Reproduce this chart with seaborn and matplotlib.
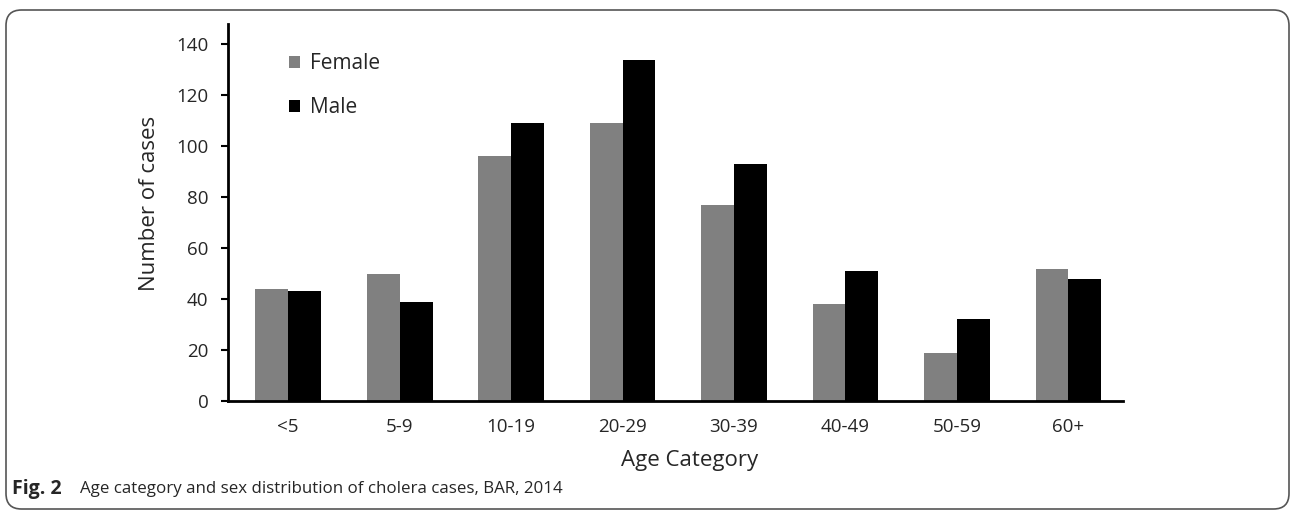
import matplotlib
matplotlib.use("Agg")
import matplotlib.pyplot as plt
import seaborn as sns
import pandas as pd
from matplotlib.patches import FancyBboxPatch

categories = ["<5", "5-9", "10-19", "20-29", "30-39", "40-49", "50-59", "60+"]
female = [44, 50, 96, 109, 77, 38, 19, 52]
male = [43, 39, 109, 134, 93, 51, 32, 48]
yticks = [0, 20, 40, 60, 80, 100, 120, 140]

df = pd.DataFrame({
    "Age Category": categories * 2,
    "Number of cases": female + male,
    "Sex": ["Female"] * len(categories) + ["Male"] * len(categories),
})

sns.set_style("white")
plt.rcParams["font.family"] = ["Open Sans", "DejaVu Sans"]

fig = plt.figure(figsize=(12.92, 5.11), dpi=100)
ax = fig.add_axes([228 / 1292, 1 - 401 / 511, (1123 - 228) / 1292, (401 - 24) / 511])

sns.barplot(data=df, x="Age Category", y="Number of cases", hue="Sex",
            order=categories, hue_order=["Female", "Male"],
            palette={"Female": "#808080", "Male": "#000000"},
            width=0.59, saturation=1, ax=ax, edgecolor="none", linewidth=0)

ax.set_xlim(-0.54, 7.49)
ax.set_ylim(0, 148)
ax.set_yticks(yticks)
ax.tick_params(axis="y", direction="out", length=5, width=1.5, pad=9, labelsize=13.5, color="black", left=True)
ax.tick_params(axis="x", length=0, pad=12, labelsize=13.5)
for s in ["top", "right"]:
    ax.spines[s].set_visible(False)
for s in ["left", "bottom"]:
    ax.spines[s].set_color("black")
    ax.spines[s].set_linewidth(2)
ax.set_ylabel("Number of cases", fontsize=16)
ax.yaxis.set_label_coords(-0.076, 0.525)
ax.set_xlabel("Age Category", fontsize=16)
ax.xaxis.set_label_coords(0.516, -0.131)

leg = ax.legend(loc="upper left", bbox_to_anchor=(0.047, 0.972), frameon=False, fontsize=15,
                handlelength=0.55, handleheight=0.55, handletextpad=0.45, labelspacing=1.1)

fig.text(12 / 1292, 1 - 489 / 511, "Fig. 2", fontsize=14, fontweight="bold", va="center", ha="left")
fig.text(80 / 1292, 1 - 489 / 511, "Age category and sex distribution of cholera cases, BAR, 2014",
         fontsize=12.2, va="center", ha="left")

box = FancyBboxPatch((6 / 1292, 2 / 511), 1283 / 1292, 499 / 511,
                     boxstyle="round,pad=0,rounding_size=0.012",
                     transform=fig.transFigure, facecolor="none", edgecolor="#555555", linewidth=1.2,
                     mutation_aspect=1292 / 511)
fig.patches.append(box)

fig.savefig("out.png", dpi=100)
